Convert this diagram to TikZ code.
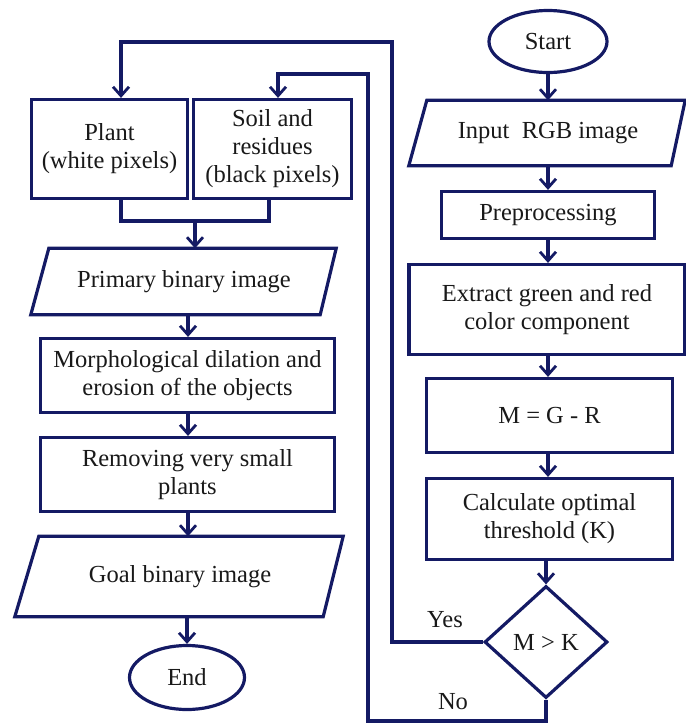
\documentclass[tikz,border=0pt]{standalone}
\usepackage{fontspec}
\setmainfont{Liberation Serif}
\usetikzlibrary{shapes.geometric,arrows.meta,calc}
\definecolor{navy}{RGB}{20,26,100}
\definecolor{ink}{RGB}{25,25,25}
\begin{document}
\begin{tikzpicture}[x=1pt,y=-1pt,
  lw/.style={line width=3.2pt},
  txt/.style={font=\fontsize{24.5}{28}\selectfont, text=ink, align=center, inner sep=0pt},
  box/.style={txt, draw=navy, lw, fill=white},
  paratext/.style={txt},
  boxline/.style={draw=navy, lw, line join=miter},
  term/.style={txt, ellipse, draw=navy, lw, fill=white},
  decision/.style={txt, diamond, draw=navy, lw, fill=white},
  arr/.style={draw=navy, lw, -{Straight Barb[length=9pt,width=16pt,line width=2.8pt]}},
  conn/.style={draw=navy, lw},
  lbl/.style={font=\fontsize{24.5}{28}\selectfont, text=ink, inner sep=0pt}
]
\useasboundingbox (0,0) rectangle (686,724);

% ---------- right column ----------
\node[term, minimum width=118, minimum height=62] (start) at (548,41.5) {Start};

\node[paratext, minimum width=260, minimum height=65] (input) at (548,133) {Input~~RGB image};
\draw[boxline] ($(input.south west)+(-9,0)$) -- ($(input.north west)+(9,0)$) -- ($(input.north east)+(7,0)$) -- ($(input.south east)+(-7,0)$) -- cycle;

\node[box, minimum width=213, minimum height=47] (pre) at (548,215) {Preprocessing};
\node[box, minimum width=276, minimum height=90] (extract) at (547,309.5) {Extract green and red\\color component};
\node[box, minimum width=246, minimum height=74] (mgr) at (549.5,415.5) {M = G - R};
\node[box, minimum width=246, minimum height=81] (calc) at (549.5,519) {Calculate optimal\\threshold (K)};
\node[decision, minimum width=123, minimum height=112] (dec) at (546,642) {M > K};

% ---------- left column ----------
\node[box, minimum width=156, minimum height=99] (plant) at (109.5,149) {Plant\\(white pixels)};
\node[box, minimum width=158, minimum height=99] (soil) at (272.5,149) {Soil and\\residues\\(black pixels)};

\node[paratext, minimum width=288, minimum height=66] (prim) at (184,281.5) {Primary binary image};
\draw[boxline] ($(prim.south west)+(-9,0)$) -- ($(prim.north west)+(9,0)$) -- ($(prim.north east)+(8,0)$) -- ($(prim.south east)+(-8,0)$) -- cycle;

\node[box, minimum width=294, minimum height=74] (morph) at (187.5,375.5) {Morphological dilation and\\erosion of the objects};
\node[box, minimum width=294, minimum height=74] (remove) at (187.5,474.5) {Removing very small\\plants};

\node[paratext, minimum width=306, minimum height=80] (goal) at (180,576.5) {Goal binary image};
\draw[boxline] ($(goal.south west)+(-12,0)$) -- ($(goal.north west)+(12,0)$) -- ($(goal.north east)+(10,0)$) -- ($(goal.south east)+(-10,0)$) -- cycle;

\node[term, minimum width=115, minimum height=64] (end) at (187,677.5) {End};

% ---------- connectors right column ----------
\draw[arr] (start.south) -- (input.north);
\draw[arr] (input.south) -- (pre.north);
\draw[arr] (pre.south) -- (extract.north -| pre.south);
\draw[arr] (extract.south -| pre.south) -- (mgr.north -| pre.south);
\draw[arr] (mgr.south -| pre.south) -- (calc.north -| pre.south);
\draw[arr] (calc.south -| dec.north) -- (dec.north);

% ---------- connectors left column ----------
\draw[arr] (prim.south -| 188,0) -- (morph.north -| 188,0);
\draw[arr] (morph.south -| 188,0) -- (remove.north -| 188,0);
\draw[arr] (remove.south -| 188,0) -- (goal.north -| 188,0);
\draw[arr] (goal.south -| end.north) -- (end.north);

% merge of plant and soil
\coordinate (merge) at (195,221);
\coordinate (plantout) at (121,199);
\coordinate (soilout) at (269,199);
\draw[conn] (plant.south -| plantout) |- (merge);
\draw[conn] (soil.south -| soilout) |- (merge);
\draw[arr] (merge) -- (prim.north -| merge);

% Yes loop
\coordinate (yescorner) at (392,42);
\coordinate (plantin) at (121,99);
\draw[arr] (dec.west) -| (yescorner) -| (plant.north -| plantin);
\node[lbl] (yes) at (445,620) {Yes};

% No loop
\coordinate (nobottom) at (546,721);
\coordinate (nocorner) at (368,74);
\coordinate (soilin) at (278,99);
\draw[arr] (dec.south) -- (nobottom) -| (nocorner) -| (soil.north -| soilin);
\node[lbl] (no) at (453,702) {No};
\end{tikzpicture}
\end{document}
